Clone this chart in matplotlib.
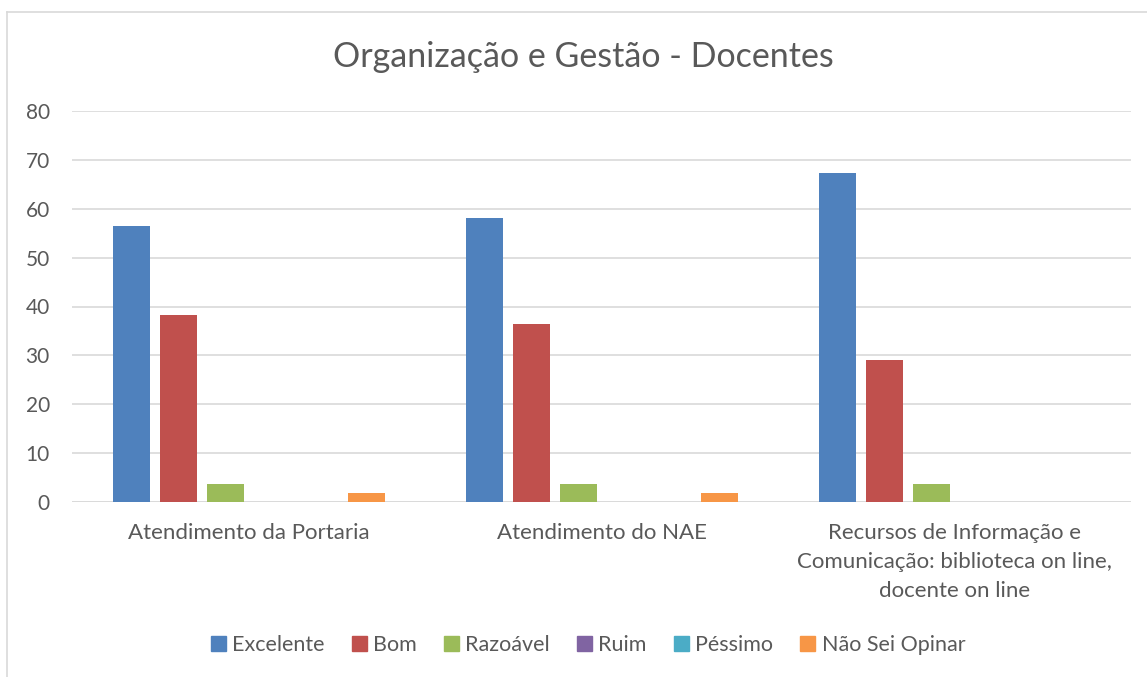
import matplotlib.pyplot as plt
import numpy as np
from matplotlib.lines import Line2D
from matplotlib.patches import Patch

plt.rcParams["font.family"] = ["Lato", "DejaVu Sans"]

# dados
categorias = [
    "Atendimento da Portaria",
    "Atendimento do NAE",
    "Recursos de Informação e\nComunicação: biblioteca on line,\ndocente on line",
]
series = ["Excelente", "Bom", "Razoável", "Ruim", "Péssimo", "Não Sei Opinar"]
excelente = [56.4, 58.2, 67.3]
bom = [38.2, 36.4, 29.1]
razoavel = [3.6, 3.6, 3.6]
ruim = [0, 0, 0]
pessimo = [0, 0, 0]
nao_sei = [1.8, 1.8, 0]
valori = [excelente, bom, razoavel, ruim, pessimo, nao_sei]
cores = ["#4F81BD", "#C0504D", "#9BBB59", "#8064A2", "#4BACC6", "#F79646"]

W, H = 1147, 677
testo = "#595959"

fig = plt.figure(figsize=(W / 100, H / 100), dpi=100)
ax = fig.add_axes([72 / W, 1 - 502 / H, (1131 - 72) / W, (502 - 111) / H])

x = np.arange(len(categorias))
passo = 47 / 353
larg = 37 / 353
for i, (nome, v, c) in enumerate(zip(series, valori, cores)):
    ax.bar(x + (i - 2.5) * passo, v, larg, color=c, label=nome, zorder=3)

ax.set_xlim(-0.5, 2.5)
ax.set_ylim(0, 80)
ax.set_yticks(range(0, 81, 10))
ax.grid(axis="y", color="#D9D9D9", linewidth=1.2, zorder=0)
ax.set_xticks(x)
ax.set_xticklabels(categorias, fontsize=16, color=testo, linespacing=1.58)
ax.tick_params(axis="y", length=0, pad=16, labelsize=15, labelcolor=testo)
ax.tick_params(axis="x", length=0, pad=15)
for s in ax.spines.values():
    s.set_visible(False)
ax.axhline(0, color="#D9D9D9", linewidth=1.2, zorder=2)

fig.text(583 / W, 1 - 57 / H, "Organização e Gestão - Docentes",
         fontsize=24.5, color=testo, ha="center", va="center")

handles = [Patch(color=c) for c in cores]
fig.legend(handles, series, loc="center", bbox_to_anchor=(588 / W, 1 - 645 / H),
           ncol=6, frameon=False, fontsize=15.5, labelcolor=testo,
           handlelength=0.7, handleheight=0.7, handletextpad=0.3, columnspacing=1.25)

# bordo del grafico
fig.add_artist(Line2D([7.5 / W, 7.5 / W], [0, 1 - 12 / H], color="#D9D9D9",
                      linewidth=1.2, transform=fig.transFigure))
fig.add_artist(Line2D([7.5 / W, 1], [1 - 12 / H, 1 - 12 / H], color="#D9D9D9",
                      linewidth=1.2, transform=fig.transFigure))

fig.savefig("out.png", dpi=100)
